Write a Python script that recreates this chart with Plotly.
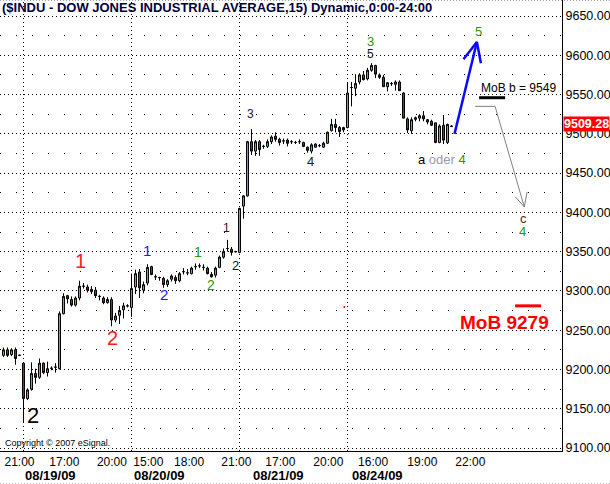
import plotly.graph_objects as go

# ---------------- data (15-minute bars, index 0 = first bar of 08/19/09) ----------------
bar_index = list(range(-5, 108))

opens = [
    # 08/18 (last bars)
    9218, 9225, 9219, 9225, 9218,
    # 08/19
    9208, 9163, 9175, 9195, 9190, 9208, 9196, 9201.5, 9203, 9201,
    9271, 9294, 9289, 9282, 9291, 9306, 9305, 9299, 9301, 9293,
    9291, 9285, 9289, 9263, 9269, 9276, 9281,
    # 08/20
    9279, 9305, 9324, 9301, 9310, 9331, 9318, 9317, 9316, 9308,
    9315, 9317, 9313, 9324.5, 9323, 9322, 9331, 9332, 9330, 9329,
    9321, 9320, 9330, 9343, 9354, 9353, 9350,
    # 08/21
    9349, 9408, 9421, 9490, 9478, 9490, 9484, 9484, 9490, 9497,
    9493, 9491, 9492, 9490, 9489, 9490, 9489, 9483, 9478, 9483,
    9485, 9483, 9488, 9504, 9512, 9508, 9505,
    # 08/24
    9508, 9559, 9558, 9566, 9575, 9570, 9581, 9587, 9575, 9572,
    9560, 9564, 9563, 9566, 9552, 9519, 9504, 9518.5, 9520, 9523,
    9518, 9516, 9514, 9489, 9511, 9489, 9510,
]
highs = [
    9228, 9228, 9227, 9228, 9219,
    9209, 9176, 9209, 9201, 9214, 9209, 9210, 9204, 9208, 9274,
    9297, 9295, 9293, 9293, 9313, 9310, 9308, 9306, 9305, 9295,
    9293, 9292, 9292, 9272, 9281, 9285, 9283,
    9322, 9327, 9328, 9312, 9334, 9332, 9321, 9318, 9318, 9315,
    9321, 9320, 9324, 9329, 9328, 9331, 9335, 9335, 9334, 9331,
    9324, 9331, 9345, 9354, 9365, 9356, 9351,
    9406, 9422, 9491, 9506, 9492, 9492, 9486, 9493, 9498, 9502,
    9495, 9494, 9494, 9492, 9491, 9493, 9490, 9484, 9488, 9488,
    9487, 9490, 9503, 9519, 9519, 9510, 9509,
    9566, 9566, 9576, 9577, 9580, 9584, 9590, 9588, 9577, 9575,
    9566, 9566, 9568, 9568, 9553, 9521, 9521, 9522, 9525, 9529,
    9519, 9518, 9514, 9512, 9524, 9513, 9511,
]
lows = [
    9216, 9216, 9217, 9206, 9217,
    9132, 9161, 9173, 9182, 9188, 9194, 9191, 9199, 9196, 9200,
    9270, 9284, 9280, 9280, 9288, 9303, 9298, 9296, 9291, 9288,
    9283, 9284, 9255, 9260, 9258, 9265, 9279,
    9267, 9296, 9291, 9297, 9307, 9320, 9314, 9313, 9304, 9305,
    9312, 9309, 9311, 9321, 9320, 9321, 9327, 9329, 9326, 9321,
    9317, 9317, 9329, 9341, 9350, 9345, 9349,
    9348, 9392, 9420, 9473, 9472, 9472, 9481, 9482, 9487, 9490,
    9485, 9487, 9484, 9487, 9487, 9487, 9483, 9476, 9475, 9482,
    9483, 9482, 9487, 9503, 9502, 9496, 9502,
    9507, 9535, 9548, 9563, 9568, 9568, 9579, 9571, 9570, 9560,
    9554, 9561, 9555, 9555, 9520, 9501, 9500, 9516, 9516, 9516,
    9512, 9510, 9488, 9488, 9487, 9487, 9509,
]
closes = [
    9225, 9218, 9225, 9214, 9218,
    9163, 9174, 9195, 9190, 9208, 9196, 9201, 9201.5, 9203, 9271,
    9293, 9290, 9282, 9291, 9306, 9306, 9301, 9302, 9294, 9293,
    9285, 9289, 9263, 9268, 9275, 9281, 9281,
    9303, 9322, 9304, 9308, 9330, 9321, 9318, 9317, 9308, 9313,
    9319, 9313, 9322, 9324.5, 9323, 9329, 9331, 9332, 9330, 9322,
    9318, 9329, 9343, 9350, 9354, 9349, 9350,
    9405, 9421, 9490, 9478, 9490, 9480, 9484, 9490, 9496, 9493,
    9489, 9491, 9488, 9490, 9489, 9490, 9484, 9479, 9486, 9487,
    9485, 9488, 9502, 9512, 9508, 9503, 9508,
    9552, 9559, 9564, 9575, 9569, 9581, 9587, 9576, 9572, 9560,
    9565, 9564, 9566, 9555, 9520, 9505, 9518, 9520.5, 9523, 9519,
    9515, 9511, 9489, 9510, 9492, 9512, 9509.28,
]

last_price = 9509.28
y_tick_values = [9100, 9150, 9200, 9250, 9300, 9350, 9400, 9450, 9500, 9550, 9600, 9650]
time_tick_pos = [-1, 10.2, 22.1, 31.2, 41.4, 53.2, 64.2, 76.2, 87.4, 99.7, 111.7]
time_tick_text = ["21:00", "17:00", "20:00", "15:00", "18:00", "21:00",
                  "17:00", "20:00", "16:00", "19:00", "22:00"]
date_pos = [-0.1, 27.1, 56.9, 81.6]
date_text = ["08/19/09", "08/20/09", "08/21/09", "08/24/09"]
day_starts = [0, 27, 54, 81]

# Elliott wave labels: (text, bar position, price, colour, size)
wave_labels = [
    ("2", 2.4, 9140.8, "#000000", 22),
    ("1", 14.2, 9338.1, "#ff1a1a", 20),
    ("2", 22.2, 9240.1, "#ff1a1a", 20),
    ("1", 30.8, 9351.5, "#1a1aff", 15),
    ("2", 35.05, 9295.4, "#1a1aff", 15),
    ("1", 43.7, 9349.6, "#2a9a00", 14),
    ("2", 46.8, 9307.5, "#2a9a00", 14),
    ("1", 50.8, 9380.1, "#1a1a1a", 12),
    ("2", 52.9, 9332.4, "#1a1a1a", 13),
    ("3", 56.8, 9525.2, "#1a1a1a", 12),
    ("4", 71.8, 9465.4, "#1a1a1a", 13),
    ("3", 86.7, 9618.2, "#2a9a00", 13),
    ("5", 86.8, 9601.6, "#1a1a1a", 12),
    ("5", 113.8, 9630.3, "#2a9a00", 13),
    ("c", 124.9, 9392.2, "#5a1a1a", 13),
    ("4", 124.8, 9375.6, "#2a9a00", 13),
]

# projected paths (bar position, price)
blue_x = [107.75, 113.35]
blue_y = [9500, 9617]
blue_head_x = [110.0, 113.35, 114.35]
blue_head_y = [9595, 9617, 9590]
gray_x = [112.9, 117.9, 125.2]
gray_y = [9535, 9535, 9407]
gray_head_x = [122.9, 125.2, 125.9]
gray_head_y = [9420, 9407, 9426]
mob_b_level = 9546
mob_b_x = [113.9, 120.4]
mob_level = 9281
mob_x = [122.9, 129.4]

FONT = "Liberation Sans, Arial, sans-serif"
PLOT_H = 451.0
PLOT_W = 562.0


def py(p):
    return (PLOT_H - p) / PLOT_H


fig = go.Figure()

fig.add_trace(go.Candlestick(
    x=bar_index, open=opens, high=highs, low=lows, close=closes,
    increasing=dict(line=dict(color="#000000", width=1), fillcolor="#00ff00"),
    decreasing=dict(line=dict(color="#000000", width=1), fillcolor="#ff0000"),
    whiskerwidth=0, hoverinfo="skip", showlegend=False,
))

fig.add_trace(go.Scatter(x=blue_x, y=blue_y, mode="lines",
                         line=dict(color="#0a0aff", width=2.5), hoverinfo="skip", showlegend=False))
fig.add_trace(go.Scatter(x=blue_head_x, y=blue_head_y, mode="lines",
                         line=dict(color="#0a0aff", width=2.5), hoverinfo="skip", showlegend=False))
fig.add_trace(go.Scatter(x=gray_x, y=gray_y, mode="lines",
                         line=dict(color="#808080", width=1), hoverinfo="skip", showlegend=False))
fig.add_trace(go.Scatter(x=gray_head_x, y=gray_head_y, mode="lines",
                         line=dict(color="#808080", width=1), hoverinfo="skip", showlegend=False))
fig.add_trace(go.Scatter(x=mob_b_x, y=[mob_b_level, mob_b_level], mode="lines",
                         line=dict(color="#000000", width=3), hoverinfo="skip", showlegend=False))
fig.add_trace(go.Scatter(x=mob_x, y=[mob_level, mob_level], mode="lines",
                         line=dict(color="#ff0000", width=3), hoverinfo="skip", showlegend=False))
fig.add_trace(go.Scatter(x=[80.2], y=[9279.5], mode="markers",
                         marker=dict(color="#ff0000", size=2), hoverinfo="skip", showlegend=False))

annotations = []
for text, xv, yv, col, size in wave_labels:
    annotations.append(dict(x=xv, y=yv, xref="x", yref="y", text=text, showarrow=False,
                            xanchor="center", yanchor="middle",
                            font=dict(family=FONT, size=size, color=col)))

annotations.append(dict(x=104.7, y=9467.9, xref="x", yref="y", showarrow=False,
                        xanchor="center", yanchor="middle",
                        text="a <span style='color:#9a9aac'>oder</span> <span style='color:#2a9a00'>4</span>",
                        font=dict(family=FONT, size=13, color="#000000")))
annotations.append(dict(x=113.9, y=9559, xref="x", yref="y", showarrow=False, xanchor="left",
                        yanchor="middle",
                        text="MoB b = 9549", font=dict(family=FONT, size=12, color="#000000")))
annotations.append(dict(x=120.2, y=9259.8, xref="x", yref="y", showarrow=False,
                        xanchor="center", yanchor="middle",
                        text="<b>MoB 9279</b>", font=dict(family=FONT, size=19, color="#ff0000")))
# last price box on the price scale
annotations.append(dict(x=1.0, y=last_price, xref="paper", yref="y", showarrow=False, xanchor="left",
                        yanchor="middle", xshift=1, yshift=3, text="<b>%.2f</b>" % last_price,
                        bgcolor="#ff0000", borderpad=0,
                        font=dict(family=FONT, size=12.5, color="#ffffff")))
# title
annotations.append(dict(x=0.0, y=py(8), xref="paper", yref="paper", showarrow=False, xanchor="left",
                        yanchor="middle",
                        text="<b>($INDU - DOW JONES INDUSTRIAL AVERAGE,15) Dynamic,0:00-24:00</b>",
                        font=dict(family=FONT, size=13, color="#00003c")))
# copyright
annotations.append(dict(x=3 / PLOT_W, y=py(443), xref="paper", yref="paper", showarrow=False,
                        xanchor="left", yanchor="middle", text="Copyright © 2007 eSignal.",
                        font=dict(family=FONT, size=9, color="#000000")))
# dates
for xv, txt in zip(date_pos, date_text):
    annotations.append(dict(x=xv, y=py(475), xref="x", yref="paper", showarrow=False, xanchor="left",
                            yanchor="middle",
                            text="<b>%s</b>" % txt, font=dict(family=FONT, size=13, color="#000000")))

shapes = []
for d in day_starts:
    shapes.append(dict(type="line", x0=d, x1=d, xref="x", y0=0, y1=1, yref="paper",
                       line=dict(color="#000000", width=1, dash="1px,3px"), layer="below"))
shapes.append(dict(type="line", x0=0, x1=610 / PLOT_W, xref="paper", y0=py(0.5), y1=py(0.5), yref="paper",
                   line=dict(color="#a0a0a0", width=1, dash="1px,2px")))
shapes.append(dict(type="line", x0=0, x1=610 / PLOT_W, xref="paper", y0=py(483.5), y1=py(483.5), yref="paper",
                   line=dict(color="#c0c0c0", width=1, dash="1px,2px")))

fig.update_layout(
    width=610, height=484,
    margin=dict(l=0, r=48, t=0, b=33, autoexpand=False),
    paper_bgcolor="#ffffff", plot_bgcolor="#ffffff",
    showlegend=False, boxgap=0.5, boxgroupgap=0,
    annotations=annotations, shapes=shapes,
    xaxis=dict(range=[-5.875, 134.625], rangeslider=dict(visible=False), showgrid=False, zeroline=False,
               showline=True, linecolor="#000000", linewidth=1,
               tickmode="array", tickvals=time_tick_pos, ticktext=time_tick_text, ticks="",
               tickfont=dict(family=FONT, size=12, color="#000000"), tickprefix="<b>", ticksuffix="</b>"),
    yaxis=dict(range=[9096.2, 9670.4], side="right", tickmode="array", tickvals=y_tick_values,
               tickformat=".2f", ticks="", showline=True, linecolor="#000000", linewidth=1,
               zeroline=False, showgrid=True, gridcolor="#000000", gridwidth=1, griddash="1px,3px",
               minor=dict(dtick=25, tick0=9100, showgrid=True, gridcolor="#000000", griddash="1px,15px"),
               tickfont=dict(family=FONT, size=12.5, color="#000000"), tickprefix="<b>", ticksuffix="</b>"),
)

fig.write_html("out.html", config={"displayModeBar": False},
               post_script="document.body.style.margin='0px';document.body.style.padding='0px';")
